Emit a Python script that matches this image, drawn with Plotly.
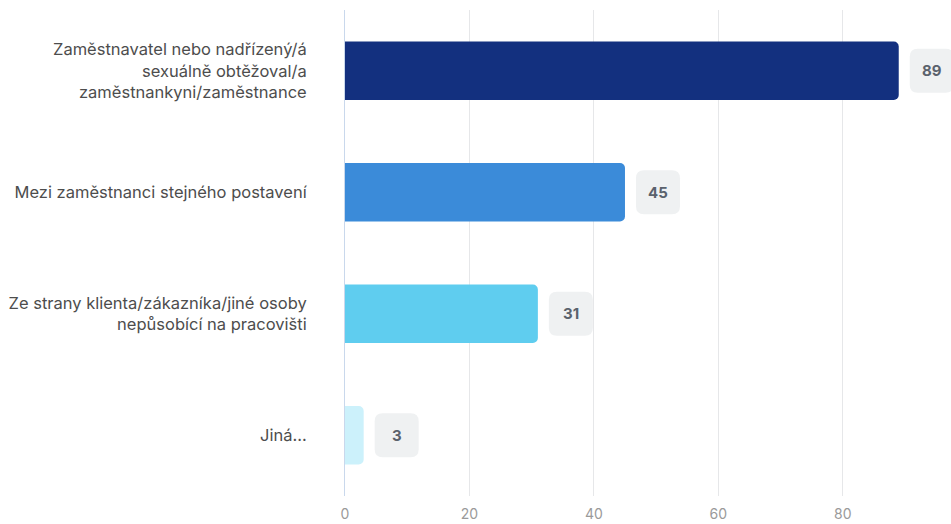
import plotly.graph_objects as go

# Categories (top to bottom) and counts
categories = [
    "Zaměstnavatel nebo nadřízený/á<br>sexuálně obtěžoval/a<br>zaměstnankyni/zaměstnance",
    "Mezi zaměstnanci stejného postavení",
    "Ze strany klienta/zákazníka/jiné osoby<br>nepůsobící na pracovišti",
    "Jiná...",
]
values = [89, 45, 31, 3]
bar_colors = ["#13307f", "#3b8bd9", "#5fcdef", "#ccf1fb"]
x_ticks = [0, 20, 40, 60, 80]

fig = go.Figure(
    go.Bar(
        x=values,
        y=categories,
        orientation="h",
        marker=dict(color=bar_colors, cornerradius=5, line=dict(width=0)),
        hoverinfo="x+y",
    )
)

# Rounded value badges placed just right of each bar end
r = 8
x0, x1, h = 11, 55, 22
badge_path = (
    f"M {x0 + r},{-h} H {x1 - r} Q {x1},{-h} {x1},{-h + r} "
    f"V {h - r} Q {x1},{h} {x1 - r},{h} H {x0 + r} "
    f"Q {x0},{h} {x0},{h - r} V {-h + r} Q {x0},{-h} {x0 + r},{-h} Z"
)
for cat, val in zip(categories, values):
    fig.add_shape(
        type="path",
        xref="x",
        yref="y",
        xsizemode="pixel",
        ysizemode="pixel",
        xanchor=val,
        yanchor=cat,
        path=badge_path,
        fillcolor="#eff1f2",
        line=dict(width=0),
        layer="above",
    )
    fig.add_annotation(
        x=val,
        y=cat,
        xref="x",
        yref="y",
        text=f"<b>{val}</b>",
        showarrow=False,
        xanchor="center",
        xshift=(x0 + x1) / 2,
        font=dict(family="Inter", size=15, color="#5a626d"),
    )

fig.update_layout(
    width=951,
    height=524,
    margin=dict(l=345, r=0, t=10, b=28),
    paper_bgcolor="white",
    plot_bgcolor="white",
    bargap=0.52,
    showlegend=False,
    font=dict(family="Inter"),
    xaxis=dict(
        range=[0, 97.4],
        tickvals=x_ticks,
        showgrid=True,
        gridcolor="#e6e7e9",
        gridwidth=1,
        zeroline=False,
        showline=False,
        ticks="",
        tickfont=dict(family="Inter", size=14, color="#9a9a9a"),
        ticklabelstandoff=8,
        fixedrange=True,
    ),
    yaxis=dict(
        autorange="reversed",
        showgrid=False,
        zeroline=False,
        showline=True,
        linecolor="#c9d8ec",
        linewidth=1,
        ticks="",
        tickfont=dict(family="Inter", size=16.5, color="#4d4d4d"),
        ticklabelstandoff=34,
        fixedrange=True,
    ),
)

fig.write_html("out.html")
